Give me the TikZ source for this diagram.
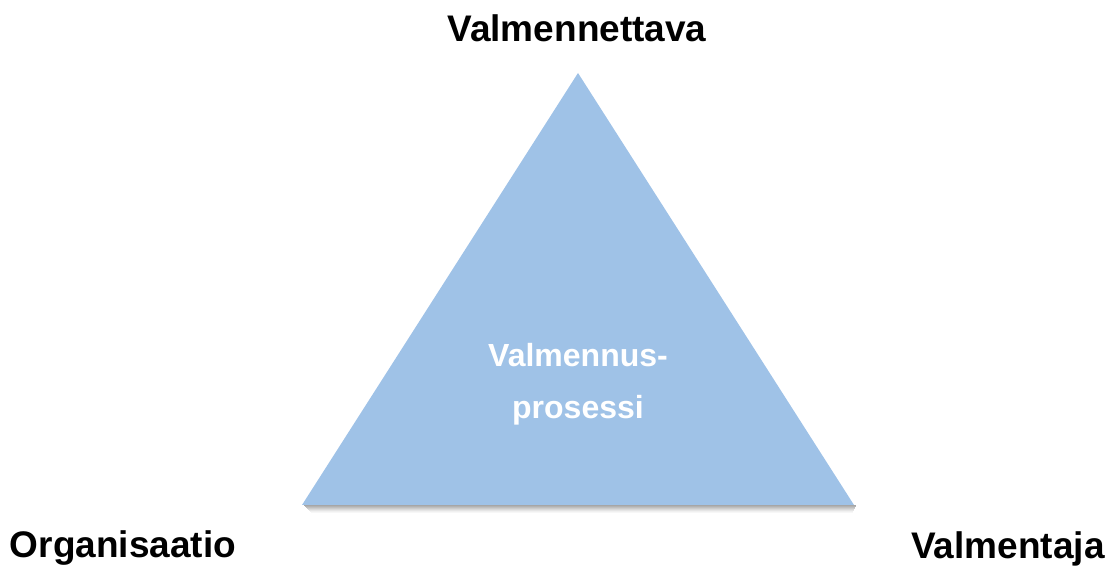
\documentclass[tikz,border=0pt]{standalone}
\usepackage{fontspec}
\setmainfont{Liberation Sans}
\definecolor{triblue}{HTML}{9FC2E7}
\begin{document}
\begin{tikzpicture}[x=1pt,y=1pt,
  label/.style={font=\bfseries\fontsize{37}{40}\selectfont, text=black, anchor=base, inner sep=0pt},
  inner/.style={font=\bfseries\fontsize{32}{36}\selectfont, text=white, anchor=base, inner sep=0pt}]
\useasboundingbox (0,0) rectangle (1119,570);
% shadow
\foreach \i/\c in {0/35,1/30,2/25,3/20,4/15,5/10,6/6,7/3}{
  \fill[black!\c] (304+\i,65-\i) rectangle (856-\i*0.5,64-\i);
}
\coordinate (apex) at (578,497);
\coordinate (bl) at (302,65);
\coordinate (br) at (854,65);
\fill[triblue] (apex) -- (bl) -- (br) -- cycle;
\node[inner] (p1) at (578,203) {Valmennus-};
\node[inner] (p2) at (578,151) {prosessi};
\node[label] (top) at (577,528) {Valmennettava};
\node[label] (left) at (123,12) {Organisaatio};
\node[label] (right) at (1008,11) {Valmentaja};
\end{tikzpicture}
\end{document}
